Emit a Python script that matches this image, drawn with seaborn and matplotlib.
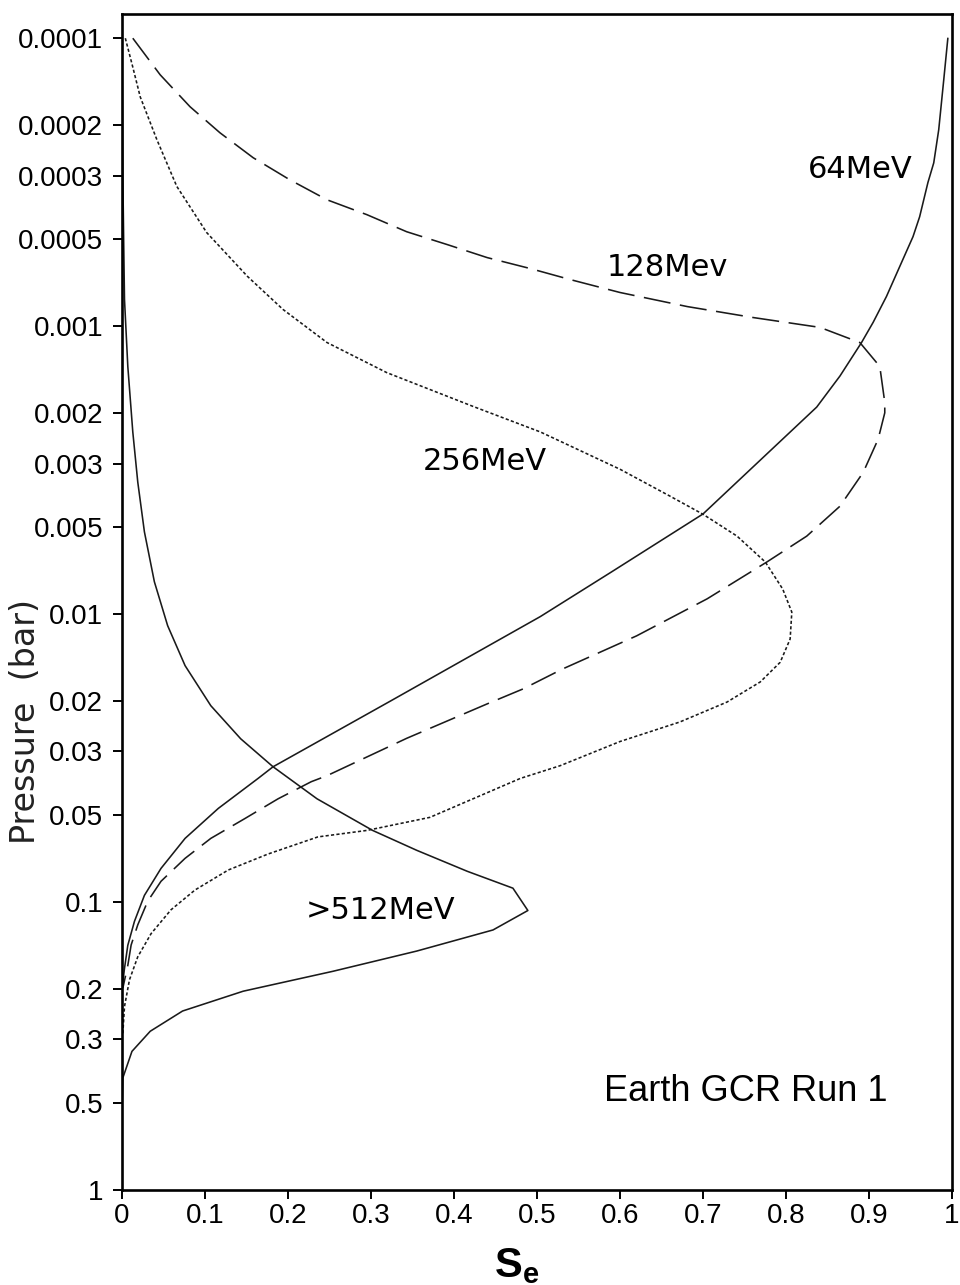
import numpy as np
import pandas as pd
import seaborn as sns
import matplotlib
matplotlib.use("Agg")
import matplotlib.pyplot as plt
from matplotlib import font_manager
from matplotlib.ticker import FixedLocator, FixedFormatter, NullLocator

# ---------------- data ----------------
p_64 = [1.0e-4, 1.40e-4, 2.08e-4, 2.71e-4, 3.17e-4, 4.17e-4, 4.89e-4, 6.21e-4, 7.89e-4,
        9.70e-4, 1.14e-3, 1.49e-3, 1.91e-3, 4.49e-3, 7.13e-3, 1.02e-2, 0.0200, 0.0339,
        0.0372, 0.0473, 0.0601, 0.0764, 0.0948, 0.1167, 0.1413, 0.170, 0.190]
s_64 = [0.995, 0.990, 0.984, 0.978, 0.971, 0.961, 0.953, 0.937, 0.921,
        0.905, 0.891, 0.865, 0.837, 0.700, 0.590, 0.504, 0.324, 0.182,
        0.164, 0.116, 0.076, 0.047, 0.027, 0.015, 0.007, 0.003, 0.001]

p_128 = [1.00e-4, 1.34e-4, 1.73e-4, 2.13e-4, 2.60e-4, 3.10e-4, 3.64e-4, 4.10e-4, 4.70e-4,
         5.21e-4, 5.78e-4, 6.31e-4, 6.89e-4, 7.64e-4, 8.55e-4, 9.33e-4, 1.01e-3, 1.14e-3,
         1.38e-3, 1.84e-3, 2.00e-3, 2.47e-3, 3.22e-3, 4.22e-3, 5.36e-3, 6.59e-3, 8.85e-3,
         0.0119, 0.0155, 0.0182, 0.0205, 0.0270, 0.0364, 0.0382, 0.0438, 0.0513, 0.0601,
         0.0705, 0.0847, 0.0993, 0.120, 0.141, 0.166, 0.199]
s_128 = [0.013, 0.046, 0.082, 0.118, 0.158, 0.202, 0.247, 0.295, 0.343,
         0.392, 0.440, 0.492, 0.540, 0.600, 0.681, 0.760, 0.841, 0.889,
         0.913, 0.919, 0.919, 0.911, 0.893, 0.865, 0.825, 0.777, 0.705,
         0.620, 0.531, 0.483, 0.440, 0.343, 0.247, 0.228, 0.188, 0.148, 0.107,
         0.076, 0.047, 0.031, 0.019, 0.011, 0.007, 0.001]

p_256 = [1.00e-4, 1.26e-4, 1.60e-4, 2.25e-4, 3.27e-4, 4.73e-4, 6.71e-4, 8.75e-4, 1.14e-3,
         1.45e-3, 1.90e-3, 2.33e-3, 3.14e-3, 3.89e-3, 4.50e-3, 5.36e-3, 6.59e-3, 8.18e-3,
         9.84e-3, 0.0122, 0.0147, 0.0172, 0.0202, 0.0237, 0.0277, 0.0336, 0.0372, 0.0508,
         0.0564, 0.0594, 0.0681, 0.0774, 0.0908, 0.1064, 0.1288, 0.1549, 0.1862, 0.2307,
         0.2864]
s_256 = [0.004, 0.013, 0.022, 0.042, 0.066, 0.102, 0.151, 0.194, 0.247,
         0.319, 0.423, 0.504, 0.600, 0.660, 0.700, 0.741, 0.775, 0.796,
         0.807, 0.805, 0.793, 0.769, 0.729, 0.672, 0.600, 0.528, 0.480, 0.371,
         0.295, 0.236, 0.176, 0.128, 0.088, 0.059, 0.035, 0.019, 0.009, 0.003,
         0.001]

p_512 = [1.0e-4, 3.0e-4, 5.0e-4, 8.07e-4, 1.38e-3, 2.33e-3, 3.48e-3, 5.18e-3, 7.72e-3,
         0.01097, 0.0151, 0.0208, 0.0271, 0.0339, 0.0438, 0.0564, 0.0661, 0.0782, 0.0895,
         0.107, 0.125, 0.148, 0.174, 0.204, 0.239, 0.281, 0.330, 0.408, 0.519]
s_512 = [0.000, 0.001, 0.002, 0.003, 0.007, 0.013, 0.019, 0.027, 0.039,
         0.055, 0.076, 0.107, 0.143, 0.182, 0.235, 0.302, 0.355, 0.416, 0.471,
         0.489, 0.447, 0.355, 0.254, 0.146, 0.073, 0.034, 0.012, 0.001, 0.000]

curve_names = ["64MeV", "128Mev", "256MeV", ">512MeV"]
label_s = [0.889, 0.657, 0.437, 0.312]
label_p = [2.86e-4, 6.25e-4, 2.95e-3, 0.1067]

y_ticks = [1e-4, 2e-4, 3e-4, 5e-4, 1e-3, 2e-3, 3e-3, 5e-3, 0.01, 0.02, 0.03, 0.05,
           0.1, 0.2, 0.3, 0.5, 1]
y_tick_labels = ["0.0001", "0.0002", "0.0003", "0.0005", "0.001", "0.002", "0.003",
                 "0.005", "0.01", "0.02", "0.03", "0.05", "0.1", "0.2", "0.3", "0.5", "1"]
x_ticks = [0, 0.1, 0.2, 0.3, 0.4, 0.5, 0.6, 0.7, 0.8, 0.9, 1]
x_tick_labels = ["0", "0.1", "0.2", "0.3", "0.4", "0.5", "0.6", "0.7", "0.8", "0.9", "1"]

# ---------------- style ----------------
sns.set_theme(style="white")
avail = {f.name for f in font_manager.fontManager.ttflist}
narrow = "Liberation Sans Narrow" if "Liberation Sans Narrow" in avail else "Liberation Sans"
tick_size = 22 if narrow == "Liberation Sans Narrow" else 20
plt.rcParams["font.family"] = ["DejaVu Sans"]
plt.rcParams["mathtext.fontset"] = "custom"
plt.rcParams["mathtext.bf"] = "Liberation Sans:bold"
plt.rcParams["mathtext.rm"] = "Liberation Sans"

fig = plt.figure(figsize=(9.6, 12.85), dpi=100)
ax = fig.add_axes([122 / 960, 1 - 1190 / 1285, (952 - 122) / 960, (1190 - 14) / 1285])

ink = "#1a1a1a"
lw = 1.15
sns.lineplot(x=s_64, y=p_64, sort=False, estimator=None, ax=ax, color=ink, lw=lw)
sns.lineplot(x=s_128, y=p_128, sort=False, estimator=None, ax=ax, color=ink, lw=lw)
ax.lines[-1].set_dashes((17, 6))
sns.lineplot(x=s_256, y=p_256, sort=False, estimator=None, ax=ax, color=ink, lw=lw)
ax.lines[-1].set_dashes((2.0, 1.4))
sns.lineplot(x=s_512, y=p_512, sort=False, estimator=None, ax=ax, color=ink, lw=lw)

ax.set_yscale("log")
ax.set_xlim(0, 1)
ax.set_ylim(1, 8.24e-5)
ax.yaxis.set_major_locator(FixedLocator(y_ticks))
ax.yaxis.set_major_formatter(FixedFormatter(y_tick_labels))
ax.yaxis.set_minor_locator(NullLocator())
ax.xaxis.set_major_locator(FixedLocator(x_ticks))
ax.xaxis.set_major_formatter(FixedFormatter(x_tick_labels))
ax.tick_params(axis="both", which="major", direction="out", length=6.5, width=1.4,
               color="black", labelcolor="black", left=True, bottom=True,
               labelsize=tick_size, pad=3)
ax.tick_params(axis="y", pad=7)
for lab in ax.get_xticklabels() + ax.get_yticklabels():
    lab.set_family(narrow)
for sp in ax.spines.values():
    sp.set_linewidth(1.9)
    sp.set_color("black")
ax.set_xlabel("")
ax.set_ylabel("")

for name, xs, ys in zip(curve_names, label_s, label_p):
    ax.text(xs, ys, name, fontsize=22, ha="center", va="center", color="black",
            family="DejaVu Sans")

ax.text(0.751, 0.455, "Earth GCR Run 1", fontsize=26, ha="center", va="center",
        color="black", family="Liberation Sans")

fig.text(26 / 960, 1 - 721 / 1285, "Pressure  (bar)", rotation=90, ha="center",
         va="center", fontsize=24, family="DejaVu Sans", color="#222222")
fig.text(517 / 960, 8 / 1285, r"$\mathbf{S}_{\mathbf{e}}$", ha="center", va="baseline",
         fontsize=30, color="black")

fig.savefig("out.png", dpi=100)
